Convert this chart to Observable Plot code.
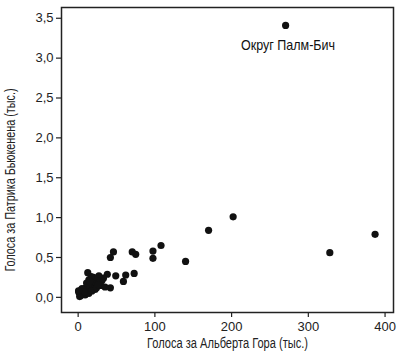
<!DOCTYPE html>
<html>
<head>
<meta charset="utf-8">
<script src="https://cdn.jsdelivr.net/npm/d3@7"></script>
<script src="https://cdn.jsdelivr.net/npm/@observablehq/plot@0.6"></script>
<style>
  html, body { margin: 0; padding: 0; background: #fff; }
  #chart { width: 400px; height: 354px; }
</style>
</head>
<body>
<div id="chart"></div>
<script>
// Gore votes (thousands) per county
const gore = [270.4, 387, 328, 202, 170, 140, 108, 97.5, 97.5, 70.5, 75, 73, 62, 59, 49, 46, 42, 42, 38, 33,
  31, 29, 27, 25, 20, 17, 12.5, 14, 19, 22, 16, 13, 10, 7, 4, 1, 3, 6, 9, 12, 14, 18, 24, 26, 35, 2, 5, 8, 0.5, 11, 15];
// Buchanan votes (thousands) per county
const buchanan = [3.41, 0.79, 0.56, 1.01, 0.84, 0.45, 0.65, 0.58, 0.49, 0.57, 0.54, 0.30, 0.28, 0.20, 0.27, 0.57, 0.50, 0.12, 0.29, 0.24,
  0.21, 0.15, 0.27, 0.21, 0.25, 0.26, 0.31, 0.22, 0.17, 0.10, 0.12, 0.14, 0.12, 0.09, 0.09, 0.06, 0.02, 0.05, 0.03, 0.07, 0.05, 0.08, 0.12, 0.16, 0.13, 0.01, 0.11, 0.07, 0.08, 0.18, 0.20];
const xTicks = [0, 100, 200, 300, 400];
const yTicks = [0, 0.5, 1, 1.5, 2, 2.5, 3, 3.5];
const xTitle = "Голоса за Альберта Гора (тыс.)";
const yTitle = "Голоса за Патрика Бьюкенена (тыс.)";
const annotation = [{x: 273.5, y: 3.16, label: "Округ Палм-Бич"}];

const data = gore.map((g, i) => ({gore: g, buchanan: buchanan[i]}));
const sans = "'Liberation Sans', Arial, sans-serif";
const fmt = d => d3.format(".1f")(d).replace(".", ",");

const chart = Plot.plot({
  width: 400,
  height: 354,
  marginLeft: 61,
  marginTop: 7,
  marginRight: 7,
  marginBottom: 42,
  style: {fontFamily: sans, fontSize: "13px", color: "#222", background: "#fff"},
  x: {domain: [-21.7, 411]},
  y: {domain: [-0.19, 3.635]},
  marks: [
    Plot.axisX({ticks: xTicks, tickSize: 5, tickPadding: 4, label: null, fontSize: 13, stroke: "#222", strokeWidth: 1.2}),
    Plot.axisY({ticks: yTicks, tickSize: 5, tickPadding: 3, label: null, tickFormat: fmt, fontSize: 13, stroke: "#222", strokeWidth: 1.2}),
    Plot.frame({stroke: "#222", strokeWidth: 1.5}),
    Plot.dot(data, {x: "gore", y: "buchanan", r: 3.6, fill: "#111", stroke: null}),
    Plot.text(annotation, {x: "x", y: "y", text: "label", fontSize: 15, fontFamily: sans, fill: "#111"}),
    Plot.text([xTitle], {text: d => d, frameAnchor: "bottom", textAnchor: "middle", lineAnchor: "middle", dy: 31, fontSize: 14, fontFamily: sans, fill: "#222"}),
    Plot.text([yTitle], {text: d => d, frameAnchor: "left", textAnchor: "middle", lineAnchor: "middle", rotate: -90, dx: -51, dy: 20, fontSize: 14, fontFamily: sans, fill: "#222"})
  ]
});
// condense the title texts to the reference's narrow typeface widths
const fit = {[xTitle]: 161, [yTitle]: 183, "Округ Палм-Бич": 94};
d3.select(chart).selectAll("text").each(function() {
  const t = this.textContent;
  if (fit[t]) {
    d3.select(this).attr("textLength", fit[t]).attr("lengthAdjust", "spacingAndGlyphs");
  }
});
document.getElementById("chart").appendChild(chart);
</script>
</body>
</html>
